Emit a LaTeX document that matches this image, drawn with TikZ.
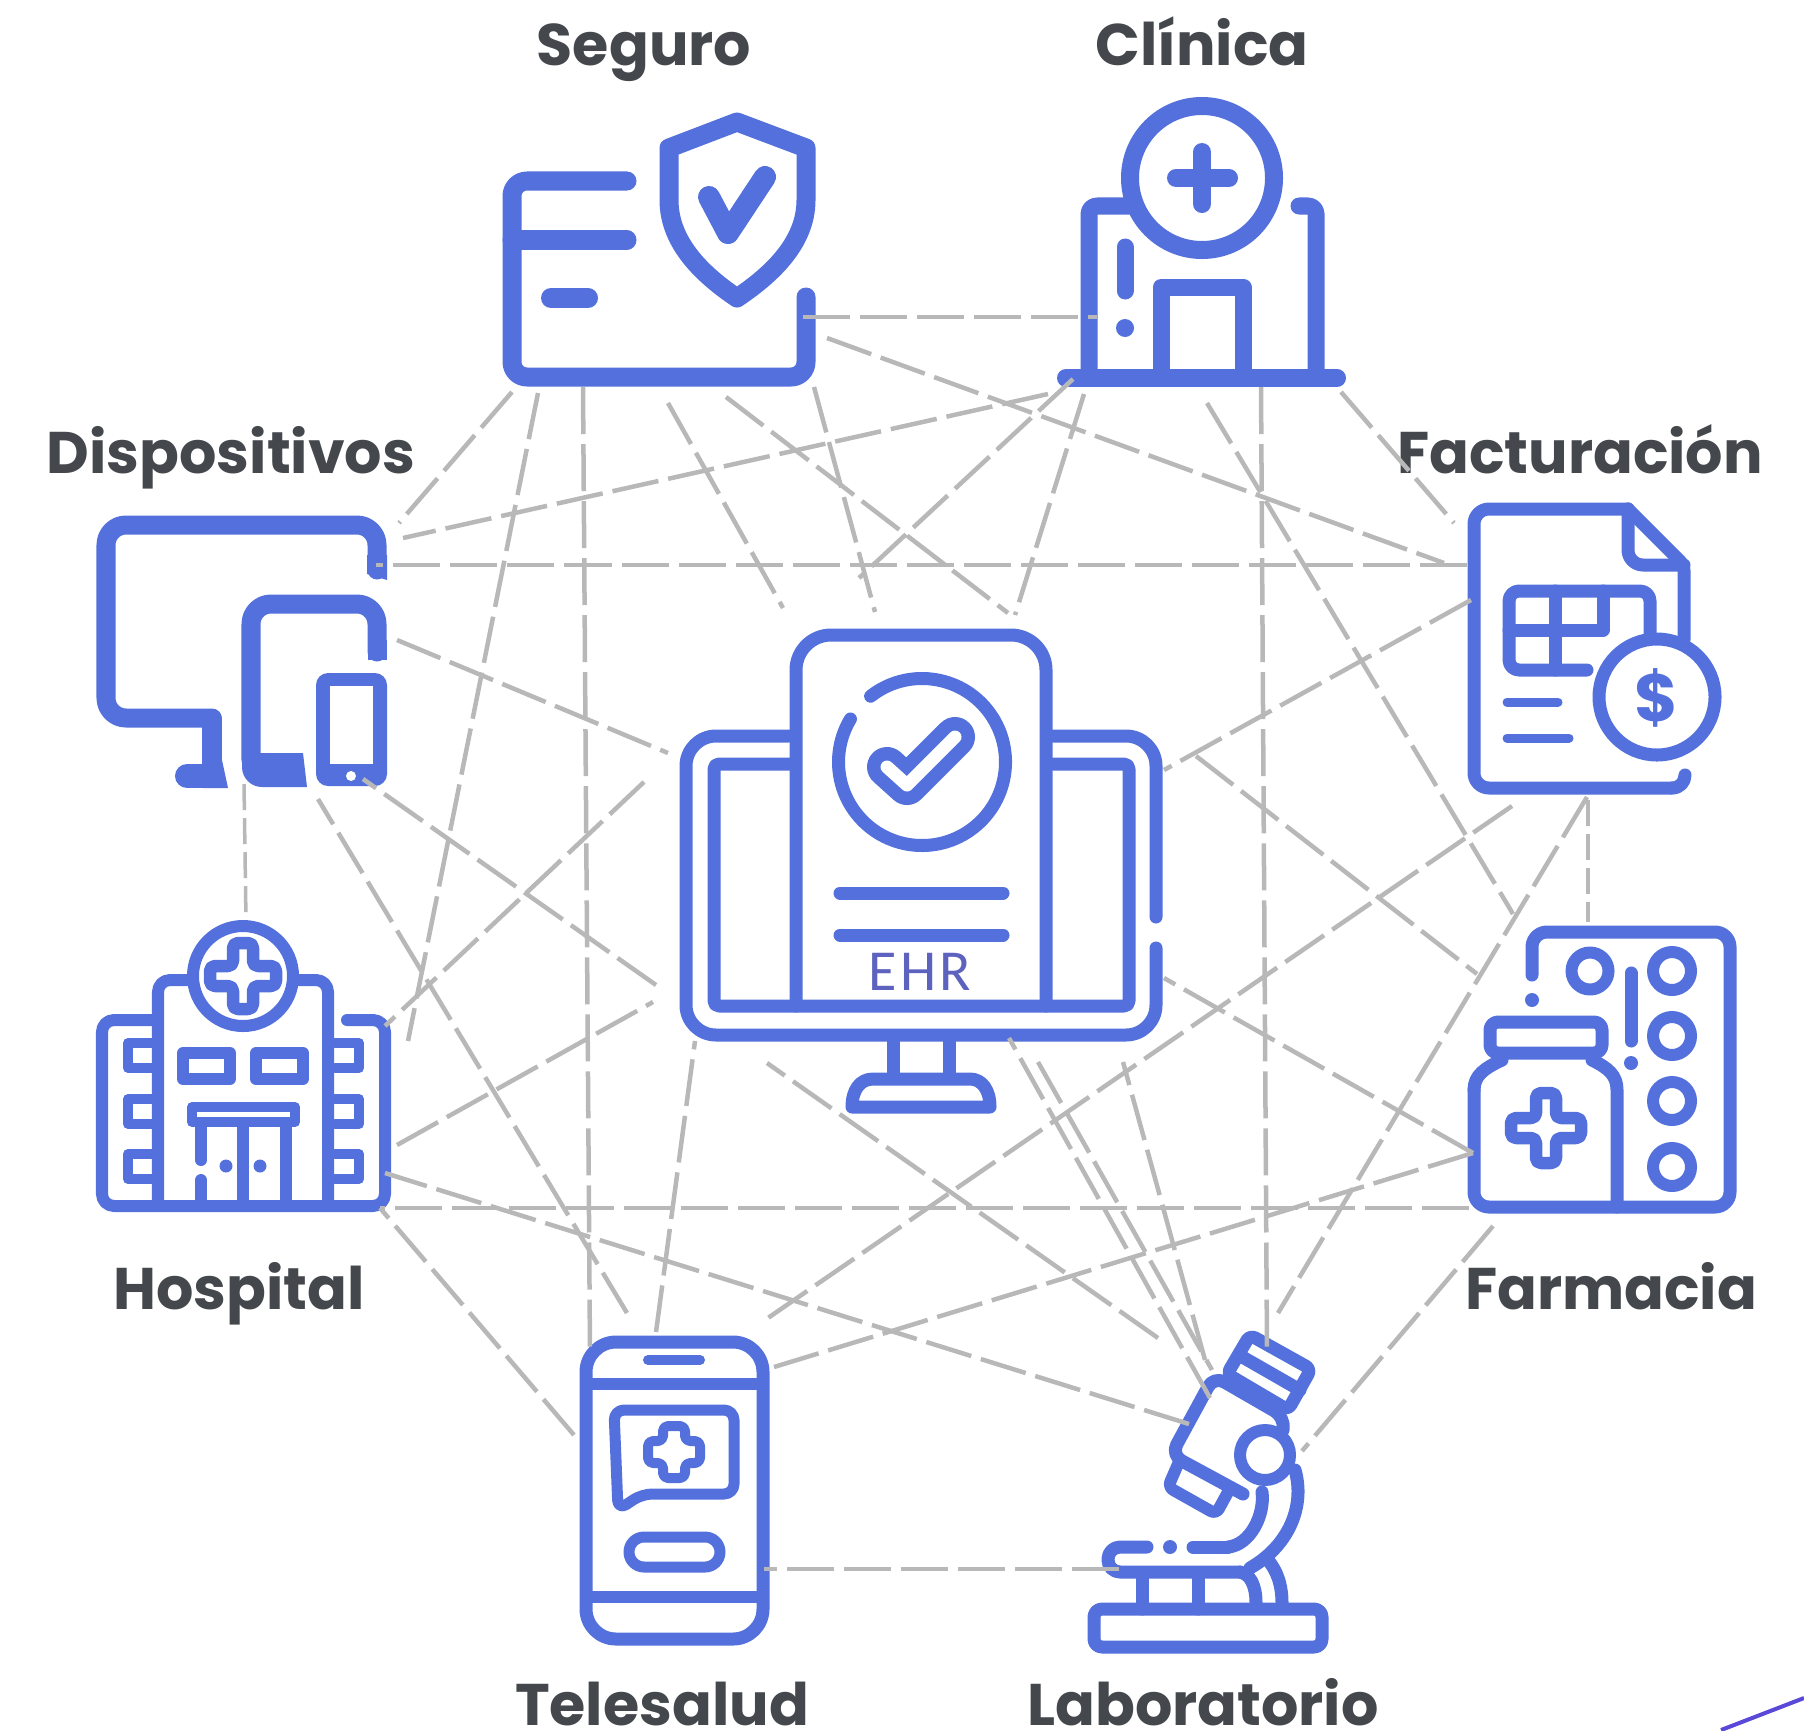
\documentclass[tikz,border=0pt]{standalone}
\usepackage{fontspec}
\setmainfont{Poppins}
\newfontfamily\ehrfont[LetterSpace=6]{Carlito}
\usepackage{tikz}

\definecolor{iconblue}{HTML}{5370DC}
\definecolor{labelgray}{HTML}{44484D}
\definecolor{linkgray}{HTML}{B8B8B8}
\definecolor{ehrblue}{HTML}{5C62BE}
\definecolor{cornerblue}{HTML}{5A48D8}

\tikzset{
  icon/.style={draw=iconblue, line width=1.3mm, line cap=round, line join=round},
  thin icon/.style={icon, line width=1mm},
  iconlabel/.style={text=labelgray, font=\fontsize{16.7}{20}\selectfont\bfseries, anchor=base, inner sep=0pt},
  link/.style={draw=linkgray, line width=.45mm, dash pattern=on 4.7mm off 1mm},
  shortlink/.style={link, line width=.35mm, dash pattern=on 2.6mm off .8mm}
}

%% outlined plus sign: x, y, half length, half width, stroke
\newcommand{\medcross}[5]{%
  \draw[icon, rounded corners=.5mm, line width=#5]
    (#1-#4,#2-#3) -- (#1+#4,#2-#3) -- (#1+#4,#2-#4) -- (#1+#3,#2-#4)
    -- (#1+#3,#2+#4) -- (#1+#4,#2+#4) -- (#1+#4,#2+#3) -- (#1-#4,#2+#3)
    -- (#1-#4,#2+#4) -- (#1-#3,#2+#4) -- (#1-#3,#2-#4) -- (#1-#4,#2-#4) -- cycle;}

\begin{document}
\begin{tikzpicture}[x=.01cm, y=-.01cm]
\useasboundingbox (0,0) rectangle (1804,1730);

%% labels
\node[iconlabel] (seguro) at (644,65) {Seguro};
\node[iconlabel] (clinica) at (1202,65) {Clínica};
\node[iconlabel] (dispositivos) at (231,473) {Dispositivos};
\node[iconlabel] (facturacion) at (1580,473) {Facturación};
\node[iconlabel] (hospital) at (239,1309) {Hospital};
\node[iconlabel] (farmacia) at (1611,1309) {Farmacia};
\node[iconlabel] (telesalud) at (662,1725) {Telesalud};
\node[iconlabel] (laboratorio) at (1203,1725) {Laboratorio};

%% EHR icon
\draw[icon, rounded corners=3mm] (789,736) -- (686,736) -- (686,1035) -- (1156,1035) -- (1156,948);
\draw[icon, rounded corners=3mm] (1156,917) -- (1156,736) -- (1053,736);
\draw[icon, rounded corners=.5mm] (790,764) -- (714,764) -- (714,1006) -- (1129,1006) -- (1129,764) -- (1053,764);
\draw[icon, rounded corners=3.5mm] (796,1006) -- (796,635) -- (1046,635) -- (1046,1006);
\draw[icon] (922,762) ++(232:83.5) arc[start angle=232, end angle=571, radius=83.5];
\draw[icon, line width=4mm] (887,767) -- (907,785) -- (955,737);
\draw[draw=white, line width=1.3mm, line cap=round, line join=round] (887,767) -- (907,785) -- (955,737);
\draw[icon] (840,893) -- (1003,893);
\draw[icon] (840,935) -- (1003,935);
\node[text=ehrblue, font=\ehrfont\fontsize{16.5}{20}\selectfont, inner sep=0pt] (ehr) at (920,972) {EHR};
\draw[icon] (893,1042) -- (893,1075);
\draw[icon] (949,1042) -- (949,1075);
\draw[icon] (873,1079) -- (970,1079) .. controls (982,1079) and (990,1090) .. (990,1107) -- (852,1107) .. controls (852,1090) and (860,1079) .. (873,1079) -- cycle;

%% seguro icon
\draw[icon, line width=1.9mm, rounded corners=1.5mm] (627,181) -- (512,181) -- (512,377) -- (806,377) -- (806,297);
\draw[icon, line width=1.9mm] (512,240) -- (627,240);
\draw[icon, line width=2mm] (551,298) -- (588,298);
\draw[icon, line width=1.9mm] (737,122) -- (806,148) -- (806,200) .. controls (806,245) and (768,277) .. (737,298) .. controls (706,277) and (669,245) .. (669,200) -- (669,148) -- cycle;
\draw[icon, line width=2.2mm] (709,197) -- (728,233) -- (765,177);

%% clinica icon
\draw[icon, line width=1.8mm] (1202,178) circle[radius=72];
\draw[icon, line width=1.8mm] (1202,152) -- (1202,204);
\draw[icon, line width=1.8mm] (1176,178) -- (1229,178);
\draw[icon, line width=1.7mm, rounded corners=.8mm] (1135,206) -- (1089,206) -- (1089,378);
\draw[icon, line width=1.7mm, rounded corners=.8mm] (1299,206) -- (1316,206) -- (1316,378);
\draw[icon, line width=1.8mm] (1066,378) -- (1337,378);
\draw[icon, line width=1.7mm] (1125,247) -- (1125,291);
\fill[iconblue] (1125,328) circle[radius=9];
\draw[icon, line width=1.7mm] (1161,378) -- (1161,287) -- (1243,287) -- (1243,378);

%% dispositivos icon
\draw[icon, line width=1.9mm, rounded corners=2mm] (377,570) -- (377,525) -- (106,525) -- (106,718) -- (212,718);
\draw[draw=iconblue, line width=1.9mm, line join=round] (205,718) -- (212,718) -- (212,774);
\draw[icon, line width=2.4mm] (187,776) -- (212,776);
\fill[iconblue] (203,760) -- (222,760) -- (228,788) -- (203,788) -- cycle;
\fill[iconblue] (367,555) -- (387,555) -- (387,580) -- (367,574) -- cycle;
\draw[icon, line width=1.9mm, rounded corners=2mm] (377,652) -- (377,604) -- (251,604) -- (251,760);
\fill[iconblue] (368,640) rectangle (387,660);
\fill[iconblue] (303,753) -- (307,787) [rounded corners=2mm] -- (242,787) [sharp corners] -- (242,753) -- cycle;
\fill[iconblue, rounded corners=1.2mm] (316,673) rectangle (387,786);
\fill[white] (330,686) rectangle (373,764);
\fill[white] (351,776) circle[radius=5];

%% hospital icon
\draw[icon, line width=1.2mm] (243,976) circle[radius=50];
\medcross{243}{976}{33}{10}{1.25mm}
\draw[icon, line width=1.2mm, rounded corners=1.2mm] (187,980) -- (158,980) -- (158,1206);
\draw[icon, line width=1.2mm, rounded corners=1.2mm] (299,980) -- (328,980) -- (328,1206);
\draw[icon, line width=1.2mm, rounded corners=1.2mm] (152,1020) -- (102,1020) -- (102,1206) -- (385,1206) -- (385,1020) -- (347,1020);
\foreach \winy in {1043,1099,1154} {
  \draw[thin icon] (152,\winy) -- (128,\winy) -- (128,\winy+25) -- (152,\winy+25);
  \draw[thin icon] (335,\winy) -- (359,\winy) -- (359,\winy+25) -- (335,\winy+25);
}
\draw[icon, line width=1.2mm] (183,1053) rectangle (230,1079);
\draw[icon, line width=1.2mm] (256,1053) rectangle (303,1079);
\draw[thin icon] (192,1107) rectangle (295,1122);
\draw[icon, line width=1.2mm] (201,1127) -- (201,1160);
\draw[icon, line width=1.2mm] (201,1180) -- (201,1206);
\draw[icon, line width=1.2mm] (243,1127) -- (243,1206);
\draw[icon, line width=1.2mm] (286,1127) -- (286,1206);
\fill[iconblue] (226,1166) circle[radius=6.5];
\fill[iconblue] (260,1166) circle[radius=6.5];

%% facturacion icon
\draw[icon, rounded corners=.6mm] (1684,640) -- (1684,565) -- (1628,509);
\draw[icon, rounded corners=1.5mm] (1628,509) -- (1474,509) -- (1474,788) -- (1672,788);
\draw[icon] (1672,788) .. controls (1680,788) and (1685,782) .. (1685,775);
\draw[icon, rounded corners=1.5mm] (1628,509) -- (1628,565) -- (1684,565);
\draw[icon, rounded corners=1mm] (1587,670) -- (1509,670) -- (1509,591) -- (1650,591) -- (1650,635);
\draw[icon] (1555,591) -- (1555,670);
\draw[icon] (1509,630) -- (1603,630) -- (1603,591);
\draw[icon, line width=.9mm] (1507,702) -- (1558,702);
\draw[icon, line width=.9mm] (1507,738) -- (1569,738);
\draw[icon, fill=white] (1657,697) circle[radius=58];
\node[text=iconblue, font=\fontsize{19}{22}\selectfont\bfseries, inner sep=0pt] (dollar) at (1656,698) {\$};

%% farmacia icon
\draw[icon, rounded corners=1.5mm] (1532,975) -- (1532,932) -- (1730,932) -- (1730,1207) -- (1474,1207) -- (1474,1090);
\fill[iconblue] (1532,1000) circle[radius=7];
\draw[icon, line width=1.2mm] (1590,971) circle[radius=18.5];
\draw[icon] (1631,973) -- (1631,1041);
\fill[iconblue] (1631,1063) circle[radius=7];
\foreach \ringy in {971,1036,1101,1167} {
  \draw[icon, line width=1.2mm] (1672,\ringy) circle[radius=19];
}
\draw[icon, rounded corners=.8mm] (1490,1022) rectangle (1602,1053);
\draw[icon] (1474,1090) .. controls (1474,1075) and (1485,1068) .. (1502,1060);
\draw[icon] (1592,1060) .. controls (1608,1068) and (1617,1075) .. (1617,1090) -- (1617,1207);
\medcross{1546}{1128}{35}{10}{1.25mm}

%% telesalud icon
\draw[icon, rounded corners=3mm] (586,1342) rectangle (763,1639);
\draw[thin icon] (648,1360) -- (700,1360);
\draw[icon, line width=1.2mm] (586,1384) -- (763,1384);
\draw[icon, line width=1.2mm] (586,1597) -- (763,1597);
\draw[icon, line width=1.1mm, rounded corners=1mm] (734,1410) -- (734,1494) -- (642,1494) -- (618,1510) -- (614,1410) -- cycle;
\medcross{674}{1452}{26}{11}{1mm}
\draw[icon, line width=1.1mm, rounded corners=1.5mm] (629,1537) rectangle (720,1567);

%% laboratorio icon
\draw[icon, rounded corners=.8mm] (1094,1609) rectangle (1322,1647);
\draw[icon, rounded corners=1.2mm] (1147,1547) -- (1108,1547) -- (1108,1572) -- (1240,1572);
\fill[iconblue] (1170,1547) circle[radius=7];
\draw[icon] (1193,1547) -- (1228,1547);
\draw[icon] (1142,1574) -- (1142,1609);
\draw[icon] (1198,1574) -- (1198,1609);
\draw[icon] (1240,1572) .. controls (1250,1574) and (1256,1585) .. (1256,1603);
\draw[icon] (1267,1559) .. controls (1277,1570) and (1282,1585) .. (1282,1603);
\draw[icon] (1295,1470) .. controls (1305,1505) and (1290,1545) .. (1250,1568);
\draw[icon] (1262,1492) .. controls (1265,1515) and (1250,1545) .. (1228,1547);
\draw[icon, line width=1.2mm] (1265,1455) circle[radius=25];
\draw[icon, rounded corners=1.2mm] (1243,1494) -- (1171,1455) -- (1214,1376) -- (1285,1417) -- (1283,1430);
\draw[icon, rounded corners=.6mm] (1250,1335) -- (1311,1369) -- (1288,1410) -- (1227,1374) -- cycle;
\draw[icon] (1239,1355) -- (1300,1390);
\draw[icon, line width=1.2mm, rounded corners=.6mm] (1178,1464) -- (1168,1487) -- (1216,1514) -- (1228,1492);

%% corner stroke
\draw[draw=cornerblue, line width=.4mm] (1721,1730) -- (1804,1698);

%%% link ends
\coordinate (sc) at (803,317);    \coordinate (cs) at (1097,317);    %% seguro clinica
\coordinate (sf) at (827,338);    \coordinate (fs) at (1444,563);    %% seguro facturacion
\coordinate (sa) at (726,397);    \coordinate (sam) at (1008,613);   %% seguro farmacia
\coordinate (asm) at (1196,756);  \coordinate (as) at (1477,974);
\coordinate (sl) at (668,403);    \coordinate (slm) at (783,608);    %% seguro laboratorio
\coordinate (lsm) at (1038,1062); \coordinate (ls) at (1212,1370);
\coordinate (st) at (583,387);    \coordinate (ts) at (590,1355);    %% seguro telesalud
\coordinate (sh) at (538,393);    \coordinate (hs) at (408,1041);    %% seguro hospital
\coordinate (sd) at (512,392);    \coordinate (ds) at (399,523);     %% seguro dispositivos
\coordinate (se) at (814,387);    \coordinate (es) at (875,612);     %% seguro ehr
\coordinate (cf) at (1341,392);   \coordinate (fc) at (1454,523);    %% clinica facturacion
\coordinate (ca) at (1207,403);   \coordinate (ac) at (1513,914);    %% clinica farmacia
\coordinate (cl) at (1261,387);   \coordinate (lc) at (1267,1353);   %% clinica laboratorio
\coordinate (ch) at (1073,379);   \coordinate (chm) at (859,578);    %% clinica hospital
\coordinate (hcm) at (644,782);   \coordinate (hc) at (385,1026);
\coordinate (cd) at (1048,394);   \coordinate (dc) at (403,538);     %% clinica dispositivos
\coordinate (ce) at (1084,394);   \coordinate (ec) at (1015,615);    %% clinica ehr
\coordinate (fa) at (1588,800);   \coordinate (af) at (1588,922);    %% facturacion farmacia
\coordinate (fl) at (1587,797);   \coordinate (lf) at (1278,1313);   %% facturacion laboratorio
\coordinate (ft) at (1512,806);   \coordinate (tf) at (765,1320);    %% facturacion telesalud
\coordinate (fd) at (1467,565);   \coordinate (df) at (376,565);     %% facturacion dispositivos
\coordinate (fe) at (1471,600);   \coordinate (ef) at (1164,770);    %% facturacion ehr
\coordinate (al) at (1493,1226);  \coordinate (la) at (1302,1451);   %% farmacia laboratorio
\coordinate (at) at (1473,1153);  \coordinate (ta) at (774,1367);    %% farmacia telesalud
\coordinate (ah) at (1469,1208);  \coordinate (ha) at (380,1208);    %% farmacia hospital
\coordinate (ae) at (1473,1153);  \coordinate (ea) at (1164,978);    %% farmacia ehr
\coordinate (lt) at (1119,1569);  \coordinate (tl) at (764,1569);    %% laboratorio telesalud
\coordinate (lh) at (1189,1424);  \coordinate (hl) at (385,1173);    %% laboratorio hospital
\coordinate (ld) at (1158,1338);  \coordinate (ldm) at (767,1063);   %% laboratorio dispositivos
\coordinate (dlm) at (656,985);   \coordinate (dl) at (363,779);
\coordinate (lea) at (1205,1360); \coordinate (ela) at (1123,1062);  %% laboratorio ehr
\coordinate (leb) at (1210,1398); \coordinate (elb) at (1009,1038);
\coordinate (th) at (574,1435);   \coordinate (ht) at (380,1208);    %% telesalud hospital
\coordinate (td) at (627,1313);   \coordinate (dt) at (318,799);     %% telesalud dispositivos
\coordinate (te) at (656,1332);   \coordinate (et) at (695,1041);    %% telesalud ehr
\coordinate (hd) at (246,920);    \coordinate (dh) at (244,784);     %% hospital dispositivos
\coordinate (he) at (397,1145);   \coordinate (eh) at (653,1002);    %% hospital ehr
\coordinate (de) at (397,640);    \coordinate (ed) at (668,753);     %% dispositivos ehr

%%% links
\foreach \linka/\linkb in {sc/cs,sf/fs,sa/sam,asm/as,sl/slm,lsm/ls,st/ts,sh/hs,sd/ds,se/es,
    cf/fc,ca/ac,cl/lc,ch/chm,hcm/hc,cd/dc,ce/ec,fl/lf,ft/tf,fd/df,fe/ef,al/la,at/ta,ah/ha,ae/ea,
    lt/tl,lh/hl,ld/ldm,dlm/dl,lea/ela,leb/elb,th/ht,td/dt,te/et,he/eh,de/ed} {
  \draw[link] (\linka) -- (\linkb);
}
\draw[shortlink] (fa) -- (af);
\draw[shortlink] (dh) -- (hd);

\end{tikzpicture}
\end{document}
